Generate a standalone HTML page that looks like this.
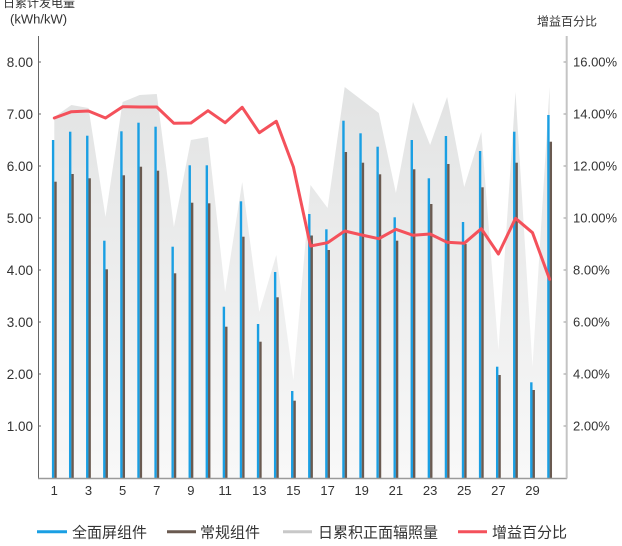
<!DOCTYPE html>
<html>
<head>
<meta charset="utf-8">
<style>
html,body{margin:0;padding:0;background:#fff;}
svg{display:block;}
text{font-family:"Liberation Sans","Noto Sans CJK SC",sans-serif;fill:#333;}
</style>
</head>
<body>
<svg width="622" height="546" viewBox="0 0 622 546" xmlns="http://www.w3.org/2000/svg">
<defs>
<linearGradient id="ag" gradientUnits="userSpaceOnUse" x1="0" y1="85" x2="0" y2="478">
<stop offset="0" stop-color="#e2e3e3"/>
<stop offset="1" stop-color="#f8f8f8"/>
</linearGradient>
</defs>

<!-- titles -->
<text x="3" y="7" font-size="12">日累计发电量</text>
<text x="10" y="23.5" font-size="13">(kWh/kW)</text>
<text x="537" y="25.5" font-size="12">增益百分比</text>

<!-- area -->
<polygon id="area" fill="url(#ag)" points=""/>

<!-- bars -->
<g id="bars"></g>

<!-- axes -->
<line x1="38.5" y1="36" x2="38.5" y2="478.5" stroke="#666" stroke-width="1"/>
<line x1="38" y1="478.5" x2="567" y2="478.5" stroke="#9a9a9a" stroke-width="1.5"/>
<line x1="566.7" y1="36" x2="566.7" y2="478.5" stroke="#c4c4c4" stroke-width="2"/>

<!-- red line -->
<polyline id="red" fill="none" stroke="#f4515b" stroke-width="3" stroke-linejoin="round" stroke-linecap="round" points=""/>

<g id="labels" font-size="13.5"></g>
<g id="rlabels" font-size="13"></g>
<g id="xlabels" font-size="13"></g>

<!-- legend -->
<line x1="37" y1="531.7" x2="67" y2="531.7" stroke="#1a9fe3" stroke-width="3"/>
<text x="72" y="537.5" font-size="15">全面屏组件</text>
<line x1="167" y1="531.7" x2="196" y2="531.7" stroke="#6a5a50" stroke-width="3"/>
<text x="200" y="537.5" font-size="15">常规组件</text>
<line x1="283" y1="531.7" x2="312" y2="531.7" stroke="#c8c8c8" stroke-width="3"/>
<text x="318" y="537.5" font-size="15">日累积正面辐照量</text>
<line x1="458" y1="531.7" x2="487" y2="531.7" stroke="#f4515b" stroke-width="3"/>
<text x="492" y="537.5" font-size="15">增益百分比</text>
</svg>
<script>
(function(){
var NS="http://www.w3.org/2000/svg";
function X(d){return 54.3+(d-1)*17.08;}
var area=[117,105,108,217,102,95,94,227,140,137,292,182,312,255,380,185,208,87,100,113,193,102,145,97,187,132,350,92,367,87];
var red=[118,111.7,111,118,106.7,107,107,123.3,123,110.7,122.7,107.3,132.7,121.3,167,246,242.7,231,235,238.7,229.3,235.3,234,242.3,243.3,228.7,254,218.3,232.7,279.3];
var blue=[140,131.7,135.7,240.7,131.3,122.7,126.7,246.7,165.3,165.3,306.7,201.3,324,272,391,214,229.3,120.7,133.3,146.7,217.3,140,178.3,136,222,151,366.7,131.7,382.3,115];
var brown=[181.7,174,178.3,269.3,175.3,166.7,170.7,273.3,202.7,203.3,326.7,236.7,341.7,297.3,400.7,235.5,250,152,162.7,174.3,240.7,169.3,204,164,244,187.3,375,162.7,390,141.7];
var pts=[X(1).toFixed(1)+",478"];
for(var i=0;i<30;i++)pts.push(X(i+1).toFixed(1)+","+area[i]);
pts.push(X(30).toFixed(1)+",478");
document.getElementById("area").setAttribute("points",pts.join(" "));
var rp=[];for(i=0;i<30;i++)rp.push(X(i+1).toFixed(1)+","+red[i]);
document.getElementById("red").setAttribute("points",rp.join(" "));
var g=document.getElementById("bars");
for(i=0;i<30;i++){
 var xc=X(i+1);
 var r=document.createElementNS(NS,"rect");
 r.setAttribute("x",(xc-2.4).toFixed(2));r.setAttribute("y",blue[i]);r.setAttribute("width","2.4");r.setAttribute("height",(478-blue[i]).toFixed(1));r.setAttribute("fill","#1a9fe3");g.appendChild(r);
 var b=document.createElementNS(NS,"rect");
 b.setAttribute("x",xc.toFixed(2));b.setAttribute("y",brown[i]);b.setAttribute("width","2.4");b.setAttribute("height",(478-brown[i]).toFixed(1));b.setAttribute("fill","#6a5a50");g.appendChild(b);
}
var L=document.getElementById("labels"),R=document.getElementById("rlabels"),XL=document.getElementById("xlabels");
var svg=document.querySelector("svg");
for(var v=1;v<=8;v++){
 var y=478-52*v;
 var t=document.createElementNS(NS,"text");
 t.setAttribute("x","33");t.setAttribute("y",(y+5).toFixed(1));t.setAttribute("text-anchor","end");t.textContent=v.toFixed(2);L.appendChild(t);
 var tk=document.createElementNS(NS,"line");
 tk.setAttribute("x1","38.5");tk.setAttribute("x2","41");tk.setAttribute("y1",y);tk.setAttribute("y2",y);tk.setAttribute("stroke","#666");svg.appendChild(tk);
 var t2=document.createElementNS(NS,"text");
 t2.setAttribute("x","573");t2.setAttribute("y",(y+4.7).toFixed(1));t2.textContent=(v*2).toFixed(2)+"%";R.appendChild(t2);
 var tk2=document.createElementNS(NS,"line");
 tk2.setAttribute("x1","563.5");tk2.setAttribute("x2","566");tk2.setAttribute("y1",y);tk2.setAttribute("y2",y);tk2.setAttribute("stroke","#999");svg.appendChild(tk2);
}
for(var d=1;d<=29;d+=2){
 var t3=document.createElementNS(NS,"text");
 t3.setAttribute("x",X(d).toFixed(1));t3.setAttribute("y","495");t3.setAttribute("text-anchor","middle");t3.textContent=d;XL.appendChild(t3);
}
})();
</script>
</body>
</html>
